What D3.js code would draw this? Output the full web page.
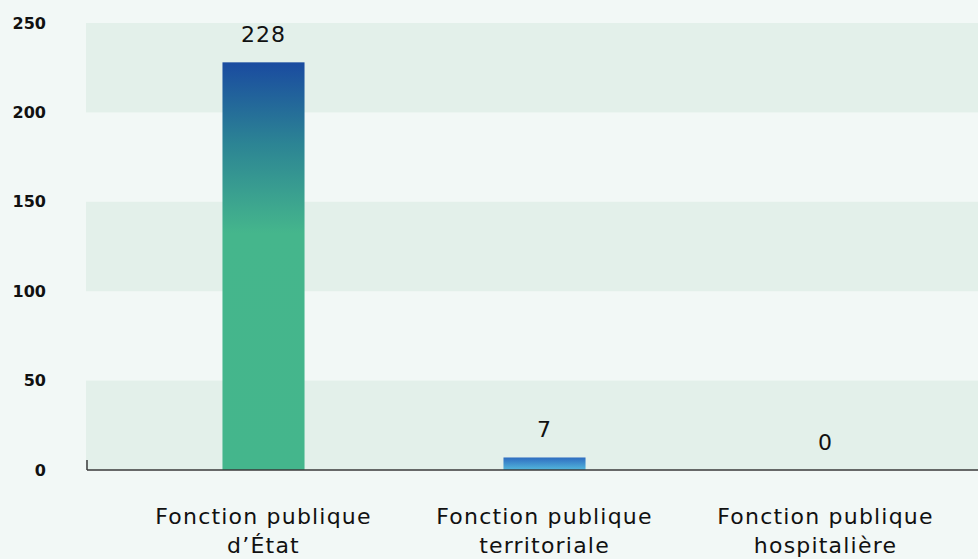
<!DOCTYPE html>
<html lang="fr">
<head>
<meta charset="utf-8">
<script src="https://cdn.jsdelivr.net/npm/d3@7/dist/d3.min.js"></script>
<style>
  html, body { margin: 0; padding: 0; background: #f2f8f6; }
  svg { display: block; }
  text { font-family: "DejaVu Sans", Inter, sans-serif; fill: #111; }
</style>
</head>
<body>
<svg id="chart" width="978" height="559"></svg>
<script>
// Effectifs par versant de la fonction publique
const categories = [["Fonction publique", "d\u2019\u00C9tat"], ["Fonction publique", "territoriale"], ["Fonction publique", "hospitali\u00E8re"]];
const values = [228, 7, 0];
const yTicks = [0, 50, 100, 150, 200, 250];

const W = 978, H = 559;
const plot = { left: 87, right: 978, top: 23, bottom: 470 };

const svg = d3.select("#chart");

const y = d3.scaleLinear().domain([0, 250]).range([plot.bottom, plot.top]);
const x = d3.scaleBand()
  .domain(d3.range(categories.length))
  .range([123, 966])
  .paddingInner(0.708)
  .paddingOuter(0.354);

// gradients
const defs = svg.append("defs");
const g1 = defs.append("linearGradient").attr("id", "grad0")
  .attr("x1", 0).attr("y1", 0).attr("x2", 0).attr("y2", 1);
g1.append("stop").attr("offset", "0%").attr("stop-color", "#1a4ba0");
g1.append("stop").attr("offset", "20%").attr("stop-color", "#2c8494");
g1.append("stop").attr("offset", "42%").attr("stop-color", "#45b68c");
g1.append("stop").attr("offset", "100%").attr("stop-color", "#44b68c");
const g2 = defs.append("linearGradient").attr("id", "grad1")
  .attr("x1", 0).attr("y1", 0).attr("x2", 0).attr("y2", 1);
g2.append("stop").attr("offset", "0%").attr("stop-color", "#2e6cc0");
g2.append("stop").attr("offset", "100%").attr("stop-color", "#54b8dc");

// alternating horizontal bands
const bands = [];
for (let i = 0; i < yTicks.length - 1; i += 2) bands.push([yTicks[i], yTicks[i + 1]]);
svg.append("g").selectAll("rect").data(bands).join("rect")
  .attr("x", plot.left - 1)
  .attr("width", plot.right - plot.left + 1)
  .attr("y", d => y(d[1]))
  .attr("height", d => y(d[0]) - y(d[1]))
  .attr("fill", "#e3f0ea");

// bars
svg.append("g").selectAll("rect").data(values).join("rect")
  .attr("x", (d, i) => x(i))
  .attr("width", x.bandwidth())
  .attr("y", d => y(d))
  .attr("height", d => y(0) - y(d))
  .attr("fill", (d, i) => `url(#grad${Math.min(i, 1)})`);

// value labels
svg.append("g").selectAll("text").data(values).join("text")
  .attr("x", (d, i) => x(i) + x.bandwidth() / 2)
  .attr("y", d => y(d) - 20)
  .attr("text-anchor", "middle")
  .attr("font-size", 22)
  .attr("letter-spacing", 1)
  .text(d => d);

// y axis labels
const yAxis = d3.axisLeft(y).tickValues(yTicks).tickSize(0).tickPadding(0);
const ya = svg.append("g").attr("transform", `translate(46,0)`).call(yAxis);
ya.select(".domain").remove();
ya.selectAll("text")
  .attr("font-size", 16)
  .attr("font-weight", 700)
  .style("font-family", "'DejaVu Sans', sans-serif")
  .attr("fill", "#111");

// x axis baseline
const xa = svg.append("g");
xa.append("line")
  .attr("x1", plot.left).attr("x2", plot.right)
  .attr("y1", y(0)).attr("y2", y(0))
  .attr("stroke", "#3a3a3a").attr("stroke-width", 1.5);
xa.append("line")
  .attr("x1", plot.left).attr("x2", plot.left)
  .attr("y1", y(0) - 10).attr("y2", y(0))
  .attr("stroke", "#3a3a3a").attr("stroke-width", 1.5);

// category labels
const cl = svg.append("g").selectAll("text").data(categories).join("text")
  .attr("x", (d, i) => x(i) + x.bandwidth() / 2)
  .attr("y", 524)
  .attr("text-anchor", "middle")
  .attr("font-size", 22)
  .attr("letter-spacing", 1.2);
cl.selectAll("tspan").data(d => d).join("tspan")
  .attr("x", function () { return d3.select(this.parentNode).attr("x"); })
  .attr("dy", (d, i) => i === 0 ? 0 : 29)
  .text(d => d);
</script>
</body>
</html>
